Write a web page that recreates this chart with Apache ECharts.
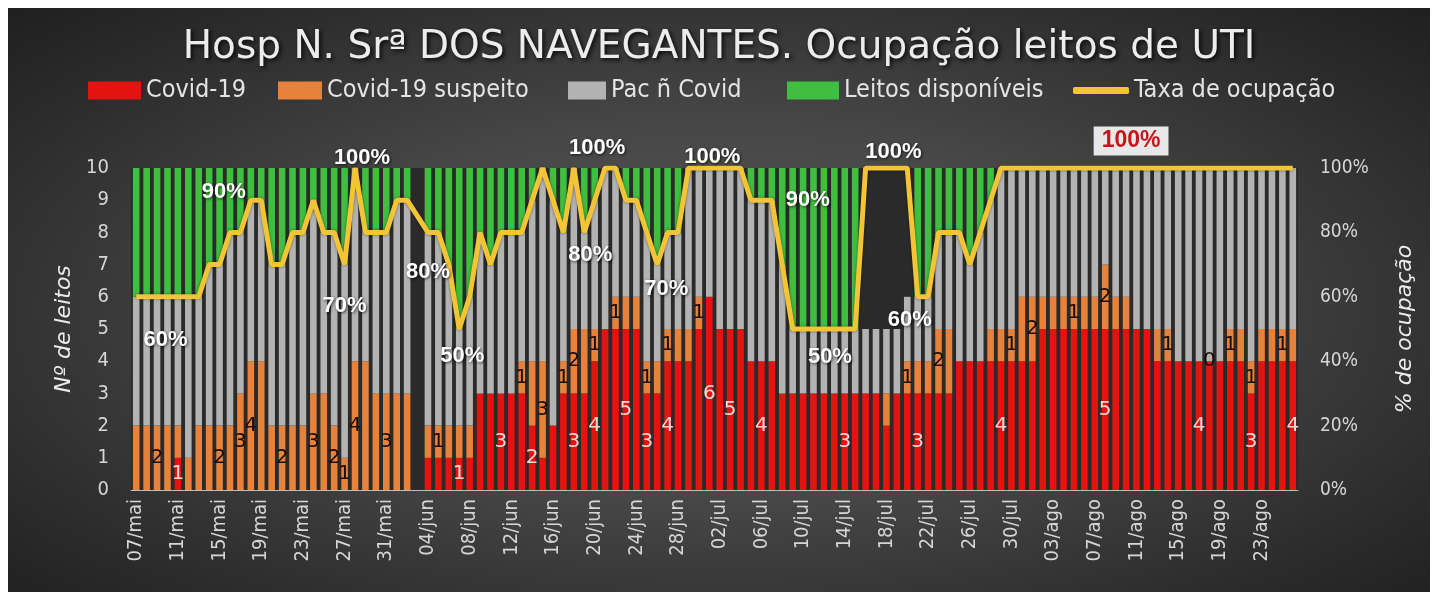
<!DOCTYPE html>
<html><head><meta charset="utf-8">
<script src="https://cdn.jsdelivr.net/npm/echarts@6/dist/echarts.min.js"></script>
<style>
html,body{margin:0;padding:0;background:#fff;width:1439px;height:598px;overflow:hidden}
#c{position:absolute;left:8px;top:8px;width:1422px;height:584px;
background:radial-gradient(ellipse 75% 80% at 50% 52%, #5a5a5a 0%, #474747 40%, #2c2c2c 75%, #1b1b1b 100%);}
</style>
</head><body><div id="c"></div>
<script>
// ---------- DATA ----------
const dias = [
'07/mai','08/mai','09/mai','10/mai','11/mai','12/mai','13/mai','14/mai','15/mai','16/mai',
'17/mai','18/mai','19/mai','20/mai','21/mai','22/mai','23/mai','24/mai','25/mai','26/mai',
'27/mai','28/mai','29/mai','30/mai','31/mai',
'01/jun','02/jun','03/jun','04/jun','05/jun','06/jun','07/jun','08/jun','09/jun','10/jun',
'11/jun','12/jun','13/jun','14/jun','15/jun','16/jun','17/jun','18/jun','19/jun','20/jun',
'21/jun','22/jun','23/jun','24/jun','25/jun','26/jun','27/jun','28/jun','29/jun','30/jun',
'01/jul','02/jul','03/jul','04/jul','05/jul','06/jul','07/jul','08/jul','09/jul','10/jul',
'11/jul','12/jul','13/jul','14/jul','15/jul','16/jul','17/jul','18/jul','19/jul','20/jul',
'21/jul','22/jul','23/jul','24/jul','25/jul','26/jul','27/jul','28/jul','29/jul','30/jul','31/jul',
'01/ago','02/ago','03/ago','04/ago','05/ago','06/ago','07/ago','08/ago','09/ago','10/ago',
'11/ago','12/ago','13/ago','14/ago','15/ago','16/ago','17/ago','18/ago','19/ago','20/ago',
'21/ago','22/ago','23/ago','24/ago','25/ago','26/ago'];

const covid = [
0,0,0,0,1,0,0,0,0,0,
0,0,0,0,0,0,0,0,0,0,
0,0,0,0,0,0,0,null,1,1,
1,1,1,3,3,3,3,3,2,1,
2,3,3,3,4,5,5,5,5,3,
3,4,4,4,5,6,5,5,5,4,
4,4,3,3,3,3,3,3,3,3,
3,3,2,3,3,3,3,3,3,4,
4,4,4,4,4,4,4,5,5,5,
5,5,5,5,5,5,5,5,4,4,
4,4,4,4,4,4,4,3,4,4,
4,4];

const suspeito = [
2,2,2,2,1,1,2,2,2,2,
3,4,4,2,2,2,2,3,3,2,
1,4,4,3,3,3,3,null,1,1,
1,1,1,0,0,0,0,1,2,3,
0,1,2,2,1,0,1,1,1,1,
1,1,1,1,1,0,0,0,0,0,
0,0,0,0,0,0,0,0,0,0,
0,0,1,0,1,1,1,2,2,0,
0,0,1,1,1,2,2,1,1,1,
1,1,1,2,1,1,0,0,1,1,
0,0,0,0,0,1,1,1,1,1,
1,1];

const naoCovid = [
4,4,4,4,4,5,4,5,5,6,
5,5,5,5,5,6,6,6,5,6,
6,6,4,5,5,6,6,null,6,6,
5,3,4,5,4,5,5,4,5,6,
7,4,5,3,4,5,4,3,3,4,
3,3,3,5,4,4,5,5,5,5,
5,5,4,2,2,2,2,2,2,2,
2,2,2,2,2,2,2,3,3,4,
3,4,4,5,5,4,4,4,4,4,
4,4,4,3,4,4,5,5,5,5,
6,6,6,6,6,5,5,6,5,5,
5,5];

const disponiveis = [
4,4,4,4,4,4,4,3,3,2,
2,1,1,3,3,2,2,1,2,2,
3,0,2,2,2,1,1,null,2,2,
3,5,4,2,3,2,2,2,1,0,
1,2,0,2,1,0,0,1,1,2,
3,2,2,0,0,0,0,0,0,1,
1,1,3,5,5,5,5,5,5,5,
0,0,0,0,0,4,4,2,2,2,
3,2,1,0,0,0,0,0,0,0,
0,0,0,0,0,0,0,0,0,0,
0,0,0,0,0,0,0,0,0,0,
0,0];

const taxa = [
60,60,60,60,60,60,60,70,70,80,
80,90,90,70,70,80,80,90,80,80,
70,100,80,80,80,90,90,null,80,80,
70,50,60,80,70,80,80,80,90,100,
90,80,100,80,90,100,100,90,90,80,
70,80,80,100,100,100,100,100,100,90,
90,90,70,50,50,50,50,50,50,50,
100,100,100,100,100,60,60,80,80,80,
70,80,90,100,100,100,100,100,100,100,
100,100,100,100,100,100,100,100,100,100,
100,100,100,100,100,100,100,100,100,100,
100,100];

// bars that carry a value label in the original
const covidLabelAt = [4,31,35,38,42,44,47,49,51,55,57,60,68,75,83,93,102,107,111];
const suspLabelAt  = [2,8,10,11,14,17,19,20,21,24,29,37,39,41,42,44,46,49,51,54,74,77,84,86,90,93,99,103,105,107,110];
const taxaLabelAt  = [3,11,20,21,28,31,43,45,50,55,61,66,72,75,95];
const taxaDestaque = 95;

const leftTicks = {min:0, max:10, interval:1};
const rightTicks = {min:0, max:100, interval:20};

// ---------- STYLE ----------
const FONT = "'DejaVu Sans Condensed','DejaVu Sans',sans-serif";
const FONT_W = "'DejaVu Sans',sans-serif";
const C_COVID = '#e5130f', C_SUSP = '#e6823b', C_NC = '#b3b3b3', C_DISP = '#3fbe3f', C_LINE = '#f3c435';
const taxaLabelOffset = {
  3:[-2,43], 11:[-27,-8], 20:[0,41], 21:[7,-10], 28:[0,40], 31:[3,27], 43:[6,23], 45:[-8,-20],
  50:[9,24], 55:[3,-11], 61:[36,0], 66:[6,28], 72:[7,-16], 75:[-8,23], 95:[5,-27]
};
const BAR_W = 6.6;

function barData(values, labelIdx, lbl){
  return values.map((v,i)=>{
    if (v === null) return '-';
    if (labelIdx.indexOf(i) >= 0) return {value:v, label:Object.assign({show:true, position:'inside'}, lbl)};
    return v;
  });
}
const covidLbl = {color:'#ffd4d4', fontSize:20, fontFamily:FONT_W};
const suspLbl = {color:'#1c0b00', fontSize:20, fontFamily:FONT_W};

const lineData = taxa.map((v,i)=>{
  if (v === null) return null;
  if (taxaLabelAt.indexOf(i) >= 0) {
    const base = {show:true, position:'inside', offset:taxaLabelOffset[i], formatter:'{c}%',
      fontFamily:"'Liberation Sans',Arial,sans-serif", fontWeight:'bold', fontSize:22, color:'#ffffff',
      textShadowColor:'rgba(0,0,0,0.7)', textShadowBlur:3, textShadowOffsetX:1, textShadowOffsetY:1};
    if (i === taxaDestaque) Object.assign(base, {color:'#c8141e', backgroundColor:'#e8e8e8',
      padding:[4,8,2,8], fontSize:23, textShadowBlur:0, textShadowColor:'transparent'});
    return {value:v, label:base};
  }
  return v;
});

const chart = echarts.init(document.getElementById('c'), null, {renderer:'canvas'});
const legendText = {color:'#e4e4e4', fontSize:25, fontFamily:FONT};
function lg(name, left, w, h, icon){
  return {data:[name], left:left, top:70, itemWidth:w, itemHeight:h, icon:icon||'rect',
    textStyle:legendText, selectedMode:false, padding:0, itemGap:0};
}
chart.setOption({
  animation:false,
  backgroundColor:'transparent',
  title:{text:'Hosp N. Srª DOS NAVEGANTES. Ocupação leitos de UTI', left:'center', top:15,
    textStyle:{color:'#ececec', fontSize:39, fontWeight:'normal', fontFamily:FONT_W,
      textShadowColor:'rgba(0,0,0,0.85)', textShadowBlur:4, textShadowOffsetX:2, textShadowOffsetY:2}},
  legend:[
    lg('Covid-19', 80, 53, 18),
    lg('Covid-19 suspeito', 270, 44, 18),
    lg('Pac ñ Covid', 560, 38, 18),
    lg('Leitos disponíveis', 779, 52, 18),
    lg('Taxa de ocupação', 1065, 56, 7, 'roundRect')
  ],
  grid:{left:123, right:132, top:160, bottom:102, show:true, backgroundColor:'#2a2a2a', borderWidth:0},
  xAxis:{type:'category', data:dias, boundaryGap:true,
    axisLine:{lineStyle:{color:'#bdbdbd', width:1}},
    axisTick:{interval:3, length:6, lineStyle:{color:'#bdbdbd'}},
    axisLabel:{interval:3, rotate:90, color:'#d6d6d6', fontSize:20, fontFamily:FONT, margin:9}},
  yAxis:[
    {type:'value', min:leftTicks.min, max:leftTicks.max, interval:leftTicks.interval,
     name:'Nº de leitos', nameLocation:'middle', nameRotate:90, nameGap:50,
     nameTextStyle:{color:'#ececec', fontSize:22, fontStyle:'italic', fontFamily:FONT_W},
     axisLine:{show:false}, axisTick:{show:false}, splitLine:{show:false},
     axisLabel:{color:'#d6d6d6', fontSize:20, fontFamily:FONT, margin:22}},
    {type:'value', position:'right', min:rightTicks.min, max:rightTicks.max, interval:rightTicks.interval,
     name:'% de ocupação', nameLocation:'middle', nameRotate:90, nameGap:96,
     nameTextStyle:{color:'#ececec', fontSize:22, fontStyle:'italic', fontFamily:FONT_W},
     axisLine:{show:false}, axisTick:{show:false}, splitLine:{show:false},
     axisLabel:{color:'#d6d6d6', fontSize:19, fontFamily:FONT, margin:22, formatter:'{value}%'}}
  ],
  series:[
    {name:'Covid-19', type:'bar', stack:'l', barWidth:BAR_W, itemStyle:{color:C_COVID},
     data:barData(covid, covidLabelAt, covidLbl)},
    {name:'Covid-19 suspeito', type:'bar', stack:'l', barWidth:BAR_W, itemStyle:{color:C_SUSP},
     data:barData(suspeito, suspLabelAt, suspLbl)},
    {name:'Pac ñ Covid', type:'bar', stack:'l', barWidth:BAR_W, itemStyle:{color:C_NC}, data:barData(naoCovid, [], {})},
    {name:'Leitos disponíveis', type:'bar', stack:'l', barWidth:BAR_W, itemStyle:{color:C_DISP}, data:barData(disponiveis, [], {})},
    {name:'Taxa de ocupação', type:'line', yAxisIndex:1, data:lineData, connectNulls:true,
     symbol:'circle', symbolSize:1, showSymbol:true, showAllSymbol:true, z:5,
     itemStyle:{color:C_LINE}, lineStyle:{color:C_LINE, width:5, shadowColor:'rgba(0,0,0,0.45)', shadowBlur:3},
     label:{show:false}}
  ]
});
</script>
</body></html>
